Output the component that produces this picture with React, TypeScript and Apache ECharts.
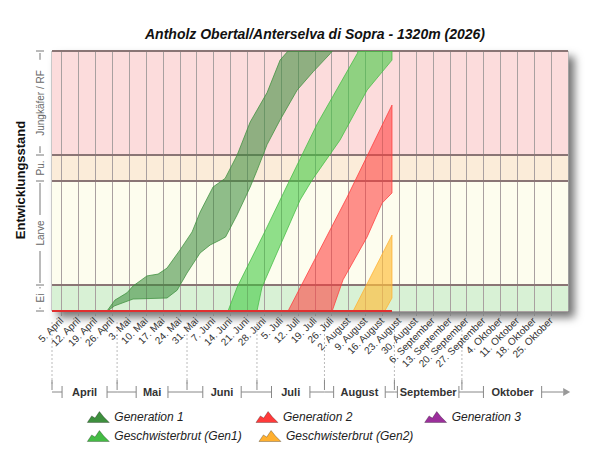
import { useEffect, useRef } from "react";
import * as echarts from "echarts";

// x = days since 5. April, y = development stage (0..10)
const weekLabels = [
  "5. April", "12. April", "19. April", "26. April", "3. Mai", "10. Mai", "17. Mai", "24. Mai", "31. Mai",
  "7. Juni", "14. Juni", "21. Juni", "28. Juni", "5. Juli", "12. Juli", "19. Juli", "26. Juli",
  "2. August", "9. August", "16. August", "23. August", "30. August", "6. September", "13. September",
  "20. September", "27. September", "4. Oktober", "11. Oktober", "18. Oktober", "25. Oktober",
];
const weekDays = weekLabels.map((_, i) => i * 7);

const months = ["April", "Mai", "Juni", "Juli", "August", "September", "Oktober"];
const monthBounds = [-4, 23, 52, 81, 109, 138, 166, 208];

const stages = ["Ei", "Larve", "Pu.", "Jungkäfer / RF"];
const stageBounds = [0, 1, 5, 6, 10];
const stageColors = ["#d8f1d5", "#fdfdee", "#fbecd9", "#fcdcdc"];

const gen1Upper = [[18, 0], [18.8, 0], [22.1, 0.42], [27.1, 0.7], [29.6, 0.96], [35.4, 1.35], [40, 1.42], [43.7, 1.65], [49.1, 2.35], [54.1, 3.04], [57.4, 3.8], [62.8, 4.77], [67.8, 5.1], [72.8, 6], [78.2, 7.27], [85.2, 8.4], [90.6, 9.65], [93.9, 10]];
const gen1Lower = [[19, 0], [22, 0.2], [29.6, 0.46], [43.7, 0.5], [47.9, 0.8], [52, 1.46], [57.4, 2.23], [61.6, 2.54], [65.7, 2.73], [68, 2.85], [72.8, 3.7], [78.2, 4.77], [81, 5.4], [85.2, 6.4], [90.6, 7.35], [97.7, 8.5], [104.3, 9.2], [111.4, 9.9], [112.2, 10]];
const sib1Upper = [[69, 0], [72.8, 0.92], [84, 3], [93.9, 4.9], [106, 7.2], [122.6, 9.9], [123, 10], [137, 10]];
const sib1Lower = [[81, 0], [83.1, 0.92], [98.9, 4.27], [103.9, 5.04], [115.5, 6.58], [126.7, 8.5], [137, 9.65]];
const gen2Upper = [[93.9, 0], [118.4, 4.38], [137, 7.92]];
const gen2Lower = [[112.2, 0], [116.7, 1.2], [126.7, 2.85], [132.9, 4.15], [137, 4.54]];
const sib2Upper = [[120.9, 0], [137, 2.92]];
const sib2Lower = [[134, 0], [137, 0.5]];
const redBase = [[-4, 0], [137, 0]];

const bands = [
  { name: "Generation 1", color: "#3d8f3d", fill: "rgba(60,140,60,0.6)", upper: gen1Upper, lower: gen1Lower },
  { name: "Geschwisterbrut (Gen1)", color: "#44bb44", fill: "rgba(60,200,60,0.6)", upper: sib1Upper, lower: sib1Lower },
  { name: "Generation 2", color: "#ff3a3a", fill: "rgba(255,60,60,0.6)", upper: gen2Upper, lower: gen2Lower },
  { name: "Geschwisterbrut (Gen2)", color: "#ffb030", fill: "rgba(255,190,60,0.7)", upper: sib2Upper, lower: sib2Lower },
];

const icon = "path://M0,10 L4,4 L7,6 L11,0 L15,5 L20,10 Z";
const font = "Arial, Liberation Sans";

export default function App() {
  const ref = useRef<HTMLDivElement | null>(null);

  useEffect(() => {
    if (!ref.current) return;
    const chart = echarts.init(ref.current, null, { renderer: "svg" });

    const bandSeries = bands.map((b) => ({
      type: "custom",
      name: b.name,
      itemStyle: { color: b.color },
      clip: true,
      z: 5,
      data: [0],
      renderItem: (_p: any, api: any) => {
        const pts = [...b.upper, ...[...b.lower].reverse()].map((p) => api.coord(p));
        return {
          type: "polygon",
          shape: { points: pts },
          style: { fill: b.fill, stroke: b.color, lineWidth: 0.8, opacity: 0.95 },
        };
      },
    }));

    const legendItem = (n: string, c: string) => ({
      name: n, icon, itemStyle: { color: c, borderColor: "rgba(0,0,0,0.45)", borderWidth: 0.6 },
    });
    const legendText = { fontStyle: "italic", fontSize: 12, color: "#222", fontFamily: font };

    chart.setOption({
      animation: false,
      title: {
        text: "Antholz Obertal/Anterselva di Sopra - 1320m (2026)",
        left: 310, top: 22, textAlign: "center",
        textStyle: { fontFamily: font, fontSize: 14, fontWeight: "bold", fontStyle: "italic", color: "#111" },
      },
      grid: {
        left: 52, right: 32, top: 51, bottom: 149, show: true,
        backgroundColor: "#fff", borderColor: "#999", borderWidth: 1,
        shadowBlur: 8, shadowColor: "rgba(0,0,0,0.55)", shadowOffsetX: 6, shadowOffsetY: 6,
      },
      legend: [
        {
          left: 82, top: 406, itemWidth: 22, itemHeight: 11, itemGap: 72, itemStyle: {},
          textStyle: legendText,
          data: [legendItem("Generation 1", "#3d8f3d"), legendItem("Generation 2", "#ff3a3a"), legendItem("Generation 3", "#9b2f9b")],
        },
        {
          left: 82, top: 425, itemWidth: 22, itemHeight: 11, itemGap: 17,
          textStyle: legendText,
          data: [legendItem("Geschwisterbrut (Gen1)", "#44bb44"), legendItem("Geschwisterbrut (Gen2)", "#ffb030")],
        },
      ],
      xAxis: {
        type: "value", min: -4, max: 210,
        axisLine: { show: false },
        splitLine: { show: false },
        axisTick: { show: true, customValues: weekDays, length: 5, lineStyle: { color: "#888" } },
        axisLabel: {
          customValues: weekDays, rotate: 45, fontSize: 10, color: "#333", margin: 8,
          fontFamily: font,
          formatter: (v: number) => weekLabels[weekDays.indexOf(v)] ?? "",
        },
      },
      yAxis: {
        type: "value", min: 0, max: 10, interval: 1,
        axisLine: { show: false }, axisTick: { show: false }, axisLabel: { show: false },
        splitLine: { show: true, lineStyle: { color: "#a9a0a0" } },
      },
      series: [
        {
          type: "line", data: [], z: 1, silent: true,
          markArea: {
            silent: true,
            data: stages.map((_, i) => [
              { yAxis: stageBounds[i], itemStyle: { color: stageColors[i] } },
              { yAxis: stageBounds[i + 1] },
            ]),
          },
          markLine: {
            silent: true, symbol: "none", label: { show: false },
            data: [
              ...weekDays.map((d) => ({ xAxis: d, lineStyle: { color: "#a9a0a0", width: 1, type: "solid" } })),
              ...stageBounds.slice(1).map((s) => ({ yAxis: s, lineStyle: { color: "#8a7575", width: 2, type: "solid" } })),
            ],
          },
        },
        ...bandSeries,
        { type: "custom", name: "Generation 3", itemStyle: { color: "#9b2f9b" }, data: [], renderItem: () => null },
        {
          type: "line", data: redBase, symbol: "none", z: 6, silent: true,
          lineStyle: { color: "#e03030", width: 2 },
        },
      ],
    });

    // decorations: stage bracket on the left and month row below
    const px = (x: number, y: number) => chart.convertToPixel({ gridIndex: 0 }, [x, y]);
    const g: any[] = [];
    const bx = 40;
    stageBounds.forEach((s) => {
      const y = px(0, s)[1];
      g.push({ type: "line", shape: { x1: bx - 4, y1: y, x2: bx + 4, y2: y }, style: { stroke: "#777" } });
    });
    stages.forEach((name, i) => {
      const y0 = px(0, stageBounds[i])[1];
      const y1 = px(0, stageBounds[i + 1])[1];
      const mid = (y0 + y1) / 2;
      const half = Math.min(name.length * 2.8 + 4, (y0 - y1) / 2 - 2);
      g.push({ type: "line", shape: { x1: bx, y1: y0 - 2, x2: bx, y2: mid + half }, style: { stroke: "#777" } });
      g.push({ type: "line", shape: { x1: bx, y1: mid - half, x2: bx, y2: y1 + 2 }, style: { stroke: "#777" } });
      g.push({
        type: "text", x: bx, y: mid, rotation: Math.PI / 2,
        style: { text: name, fontSize: 10, fill: "#666", align: "center", verticalAlign: "middle", fontFamily: font },
      });
    });
    g.push({
      type: "text", x: 20, y: 180, rotation: Math.PI / 2,
      style: { text: "Entwicklungsstand", fontSize: 13, fontWeight: "bold", fill: "#111", align: "center", verticalAlign: "middle", fontFamily: font },
    });
    const my = 392;
    months.forEach((m, i) => {
      const xa = px(monthBounds[i], 0)[0];
      const xb = px(monthBounds[i + 1], 0)[0];
      const mid = (xa + xb) / 2;
      const half = Math.min(m.length * 3.3 + 6, (xb - xa) / 2 - 3);
      g.push({ type: "line", shape: { x1: xa, y1: 322, x2: xa, y2: my - 8 }, style: { stroke: "#bbb", lineDash: [2, 2] } });
      g.push({ type: "line", shape: { x1: xa, y1: my - 12, x2: xa, y2: my - 2 }, style: { stroke: "#888" } });
      g.push({ type: "line", shape: { x1: xa, y1: my, x2: mid - half, y2: my }, style: { stroke: "#888" } });
      g.push({ type: "line", shape: { x1: mid + half, y1: my, x2: xb, y2: my }, style: { stroke: "#888" } });
      g.push({ type: "line", shape: { x1: mid - half, y1: my - 6, x2: mid - half, y2: my + 6 }, style: { stroke: "#888" } });
      g.push({ type: "line", shape: { x1: mid + half, y1: my - 6, x2: mid + half, y2: my + 6 }, style: { stroke: "#888" } });
      g.push({
        type: "text", x: mid, y: my,
        style: { text: m, fontSize: 11, fontWeight: "bold", fill: "#333", align: "center", verticalAlign: "middle", fontFamily: font },
      });
    });
    const xe = px(monthBounds[monthBounds.length - 1], 0)[0];
    g.push({ type: "polygon", shape: { points: [[xe, my - 4], [xe + 7, my], [xe, my + 4]] }, style: { fill: "#999" } });
    chart.setOption({ graphic: g });

    return () => chart.dispose();
  }, []);

  return <div ref={ref} style={{ width: 600, height: 460, margin: -8 }} />;
}
